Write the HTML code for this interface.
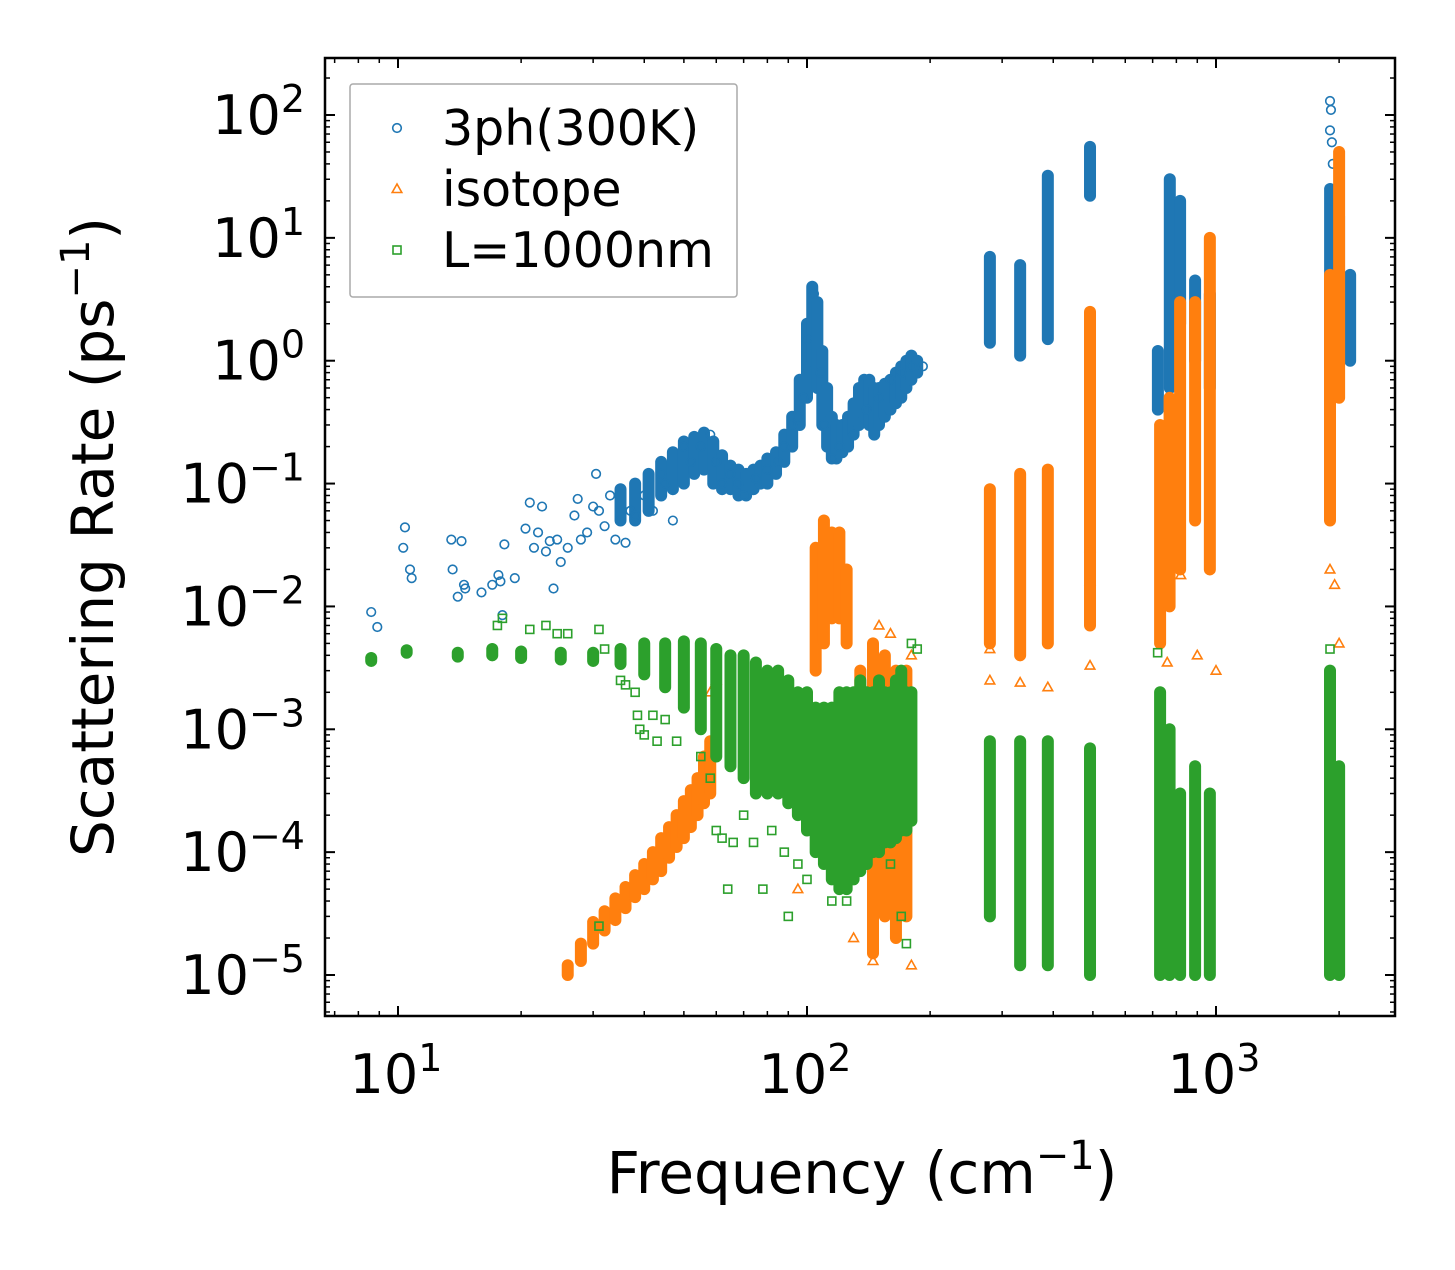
<!DOCTYPE html>
<html><head><meta charset="utf-8"><style>
body{margin:0;background:#fff}
svg text{font-family:"DejaVu Sans","Liberation Sans",sans-serif;fill:#000}
</style></head><body>
<svg id="chart" width="1455" height="1265" xmlns="http://www.w3.org/2000/svg">
<rect width="1455" height="1265" fill="#fff"/>
<g id="marks"></g>
<g id="axes"></g>
</svg>
<script>
// ---- data ----
const blueX=[8.6,8.9,10.3,10.4,10.7,10.8,13.5,13.6,14.0,14.3,14.5,14.6,16,17,17.6,17.8,18,18.2,19.3,20.5,21,21.5,22,22.5,23,23.5,24,24.5,25,26,27,27.5,28,29,30,30.5,31,32,33,34,35,36,37,38,40,42,44,45,47,50,52,55,58,60,62,65,68,70,75,80,85,88,92,95,98,100,104,108,110,115,120,130,140,150,160,170,180,192,1900,1910,1900,1920,1930,1900,492];
const blueY=[0.009,0.0068,0.03,0.044,0.02,0.017,0.035,0.02,0.012,0.034,0.015,0.014,0.013,0.015,0.018,0.016,0.0085,0.032,0.017,0.043,0.07,0.03,0.04,0.065,0.028,0.034,0.014,0.035,0.023,0.03,0.055,0.075,0.035,0.04,0.065,0.12,0.06,0.045,0.08,0.035,0.05,0.033,0.06,0.055,0.08,0.06,0.12,0.1,0.05,0.2,0.15,0.2,0.25,0.15,0.1,0.12,0.1,0.08,0.11,0.13,0.15,0.2,0.3,0.35,0.5,1.5,3.5,0.8,0.3,0.16,0.2,0.25,0.4,0.5,0.7,0.8,0.9,0.9,130,110,75,60,40,20,22];
const blueBandX=[35,38,41,44,47,50,53,56,59,62,65,68,71,74,77,80,84,88,92,96,100,103,106,109,112,115,118,122,126,130,134,138,142,146,150,155,160,165,170,175,180,186,280,332,388,492,721,771,817,889,966,1901,1999,2128];
const blueBandLo=[0.05,0.05,0.06,0.08,0.09,0.1,0.12,0.13,0.1,0.09,0.09,0.08,0.08,0.09,0.1,0.1,0.12,0.15,0.2,0.3,0.5,1,0.6,0.3,0.2,0.16,0.16,0.18,0.2,0.25,0.3,0.35,0.3,0.25,0.3,0.35,0.4,0.45,0.5,0.6,0.7,0.8,1.4,1.1,1.5,22,0.4,0.6,2,1,0.6,0.9,1,1];
const blueBandHi=[0.09,0.1,0.12,0.15,0.18,0.22,0.24,0.26,0.22,0.17,0.14,0.13,0.12,0.13,0.14,0.16,0.18,0.25,0.35,0.7,2,4,3,1.2,0.6,0.35,0.3,0.3,0.35,0.45,0.6,0.7,0.7,0.6,0.6,0.65,0.7,0.8,0.9,1.0,1.1,1.0,7,6,32,55,1.2,30,20,4.5,3.5,25,15,5];
const orangeX=[58,60,100,150,160,180,90,95,130,145,180,280,332,388,492,492,492,280,760,820,900,1000,1900,1950,2000];
const orangeY=[0.002,0.0025,0.001,0.007,0.006,0.004,0.0003,0.00005,0.00002,0.000013,0.000012,0.0025,0.0024,0.0022,0.0033,0.016,0.03,0.0045,0.0035,0.018,0.004,0.003,0.02,0.015,0.005];
const orangeBandX=[26,28,30,32,34,36,38,40,42,44,46,48,50,52,54,56,58,105,110,115,120,125,135,145,155,165,175,280,332,388,492,730,770,817,889,966,1900,2000];
const orangeBandLo=[1e-5,1.3e-5,1.8e-5,2.3e-5,2.8e-5,3.5e-5,4.3e-5,5e-5,6e-5,7e-5,9e-5,1.1e-4,1.3e-4,1.6e-4,2e-4,2.5e-4,3e-4,3e-3,5e-3,8e-3,8e-3,5e-3,1e-4,1.5e-5,3e-5,2e-5,3e-5,5e-3,4e-3,5e-3,7e-3,0.005,0.01,0.02,0.05,0.02,0.05,0.5];
const orangeBandHi=[1.2e-5,1.8e-5,2.7e-5,3.3e-5,4.2e-5,5.2e-5,6.5e-5,8e-5,1e-4,1.3e-4,1.6e-4,2e-4,2.6e-4,3.2e-4,4e-4,6e-4,8e-4,0.03,0.05,0.04,0.04,0.02,3e-3,5e-3,4e-3,3e-3,3e-3,0.09,0.12,0.13,2.5,0.3,0.5,3,3,10,5,50];
const greenX=[17.5,18,21,23,24.5,26,31,32,35,36,38,38.5,39,40,42,43,45,48,55,58,60,62,64,66,70,74,78,82,88,90,95,100,115,125,140,160,170,175,180,186,31,720,1900];
const greenY=[0.007,0.008,0.0065,0.007,0.006,0.006,0.0065,0.0045,0.0025,0.0023,0.002,0.0013,0.001,0.0009,0.0013,0.0008,0.0012,0.0008,0.0006,0.0004,0.00015,0.00013,0.00005,0.00012,0.0002,0.00012,0.00005,0.00015,0.0001,0.00003,0.00008,0.00006,0.00004,0.00004,0.0001,0.00008,0.00003,0.000018,0.005,0.0045,2.5e-5,0.0042,0.0045];
const greenBandX=[8.6,10.5,14,17,20,25,30,35,40,45,50,55,60,65,70,75,80,85,90,95,100,105,110,115,120,125,130,135,140,145,150,155,160,165,170,175,180,280,332,388,492,730,770,817,889,966,1900,2000];
const greenBandLo=[0.0036,0.0042,0.0039,0.004,0.0038,0.0037,0.0036,0.0034,0.0028,0.0022,0.0015,0.001,6e-4,5e-4,4e-4,3e-4,3e-4,3e-4,2.5e-4,2e-4,1.5e-4,1e-4,8e-5,6e-5,5e-5,5e-5,6e-5,7e-5,8e-5,1e-4,1e-4,1.2e-4,1.2e-4,1.3e-4,1.5e-4,1.5e-4,1.8e-4,3e-5,1.2e-5,1.2e-5,1e-5,1e-5,1e-5,1e-5,1e-5,1e-5,1e-5,1e-5];
const greenBandHi=[0.0038,0.0044,0.0042,0.0045,0.0043,0.0042,0.0042,0.0045,0.005,0.005,0.0052,0.005,0.0045,0.004,0.004,0.0035,0.003,0.003,0.0025,0.002,0.002,0.0015,0.0015,0.0015,0.002,0.002,0.002,0.0025,0.002,0.002,0.0025,0.002,0.002,0.0025,0.003,0.002,0.002,8e-4,8e-4,8e-4,7e-4,2e-3,1e-3,3e-4,5e-4,3e-4,3e-3,5e-4];
const xTickVals=[1,2,3];
const yTickVals=[2,1,0,-1,-2,-3,-4,-5];
const legendLabels=["3ph(300K)","isotope","L=1000nm"];

// ---- axes ----
const L=325,R=1395,T=58,B=1016;
const xs=v=>398+(Math.log10(v)-1)*409;
const ys=v=>115-(Math.log10(v)-2)*122.857;
const NS="http://www.w3.org/2000/svg";
const marks=document.getElementById('marks'),axes=document.getElementById('axes');
function mk(tag,attrs,parent){const e=document.createElementNS(NS,tag);for(const k in attrs)e.setAttribute(k,attrs[k]);parent.appendChild(e);return e;}
const C={blue:"#1f77b4",orange:"#ff7f0e",green:"#2ca02c"};
function bands(X,LO,HI,col,name){
  const g=mk('g',{},marks);
  
  
  X.forEach((x,i)=>{const l=mk('line',{x1:xs(x),x2:xs(x),y1:ys(LO[i]),y2:ys(HI[i]),stroke:col,'stroke-width':12,'stroke-linecap':'round'},g);
  
  });
}
function marker(type,cx,cy,col,parent){
  let e;
  if(type==='o')e=mk('circle',{cx,cy,r:4.3,fill:'none',stroke:col,'stroke-width':1.6},parent);
  else if(type==='^')e=mk('polygon',{points:`${cx},${cy-5} ${cx-4.8},${cy+3.5} ${cx+4.8},${cy+3.5}`,fill:'none',stroke:col,'stroke-width':1.6},parent);
  else e=mk('rect',{x:cx-4,y:cy-4,width:8,height:8,fill:'none',stroke:col,'stroke-width':1.6},parent);
  return e;
}
function pts(X,Y,type,col,name){
  const g=mk('g',{},marks);
  
  
  X.forEach((x,i)=>{const e=marker(type,xs(x),ys(Y[i]),col,g);
  
  });
}
bands(blueBandX,blueBandLo,blueBandHi,C.blue,'3ph-series-dense');
pts(blueX,blueY,'o',C.blue,'3ph-series');
bands(orangeBandX,orangeBandLo,orangeBandHi,C.orange,'isotope-series-dense');
pts(orangeX,orangeY,'^',C.orange,'isotope-series');
bands(greenBandX,greenBandLo,greenBandHi,C.green,'boundary-series-dense');
pts(greenX,greenY,'s',C.green,'boundary-series');

// frame
const fr=mk('rect',{x:L,y:T,width:R-L,height:B-T,fill:'none',stroke:'#000','stroke-width':2.5},axes);


// x ticks
for(let d=0;d<=3;d++)for(let m=1;m<10;m++){const v=m*Math.pow(10,d);const x=xs(v);if(x<L||x>R)continue;const len=m===1?10:5;
  mk('line',{x1:x,x2:x,y1:B,y2:B-len,stroke:'#000','stroke-width':m===1?2:1.5},axes);
  mk('line',{x1:x,x2:x,y1:T,y2:T+len,stroke:'#000','stroke-width':m===1?2:1.5},axes);}
xTickVals.forEach(p=>{const t=mk('text',{x:xs(Math.pow(10,p))-2,y:1093,'font-size':54,'text-anchor':'middle'},axes);
  
  
  t.innerHTML=`10<tspan font-size="38" dy="-22">${p}</tspan>`;});
// y ticks
for(let d=-6;d<=2;d++)for(let m=1;m<10;m++){const v=m*Math.pow(10,d);const y=ys(v);if(y<T||y>B)continue;const len=m===1?10:5;
  mk('line',{x1:L,x2:L+len,y1:y,y2:y,stroke:'#000','stroke-width':m===1?2:1.5},axes);
  mk('line',{x1:R,x2:R-len,y1:y,y2:y,stroke:'#000','stroke-width':m===1?2:1.5},axes);}
yTickVals.forEach(p=>{const t=mk('text',{x:305,y:ys(Math.pow(10,p))+19,'font-size':54,'text-anchor':'end'},axes);
  
  
  const s=p<0?'\u2212'+(-p):''+p;
  t.innerHTML=`10<tspan font-size="38" dy="-22">${s}</tspan>`;});
// titles
const xt=mk('text',{x:862,y:1193,'font-size':58,'text-anchor':'middle'},axes);


xt.innerHTML='Frequency (cm<tspan font-size="40" dy="-24">\u22121</tspan><tspan dy="24">)</tspan>';
const yt=mk('text',{x:0,y:0,'font-size':58,'text-anchor':'middle',transform:'translate(113,537) rotate(-90)'},axes);


yt.innerHTML='Scattering Rate (ps<tspan font-size="40" dy="-24">\u22121</tspan><tspan dy="24">)</tspan>';
// legend
const lg=mk('g',{},axes);


mk('rect',{x:350,y:84,width:387,height:213,fill:'#fff','fill-opacity':0.8,stroke:'#aaa','stroke-width':1.5,rx:3},lg);
const types=['o','^','s'],cols=[C.blue,C.orange,C.green];
legendLabels.forEach((lab,i)=>{const y=128+i*61;
  const m=marker(types[i],397,y,cols[i],lg);
  
  
  const t=mk('text',{x:442,y:y+17,'font-size':49},lg);
  
  
  t.textContent=lab;});
</script>
</body></html>
